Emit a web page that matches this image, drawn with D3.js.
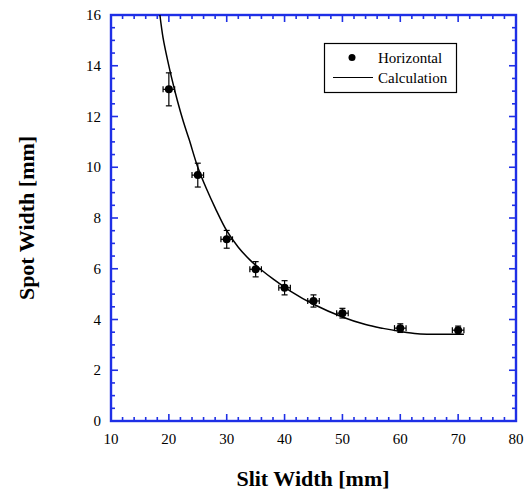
<!DOCTYPE html>
<html>
<head>
<meta charset="utf-8">
<script src="https://d3js.org/d3.v7.min.js"></script>
<style>
  body { margin: 0; background: #fff; }
  text { font-family: "Liberation Serif", "Times New Roman", serif; }
</style>
</head>
<body>
<svg id="chart" width="530" height="490"></svg>
<script>
// measured points (slit width mm, spot width mm) with errors
const slitWidth = [20, 25, 30, 35, 40, 45, 50, 60, 70];
const spotWidth = [13.07, 9.69, 7.16, 5.98, 5.25, 4.73, 4.25, 3.66, 3.58];
const spotErr   = [0.65, 0.47, 0.35, 0.3, 0.28, 0.24, 0.19, 0.17, 0.16];
const slitErr   = [1, 1, 1, 1, 1, 1, 1, 1, 1];

// calculation curve
const calcX = [18.45, 19, 19.8, 20.5, 21.5, 22.5, 23.5, 25, 26.5, 28, 30, 32, 34, 36, 38, 41, 45, 50, 54, 57, 60, 63, 66, 71];
const calcY = [16, 15.1, 14.2, 13.5, 12.6, 11.8, 11.1, 10.0, 9.15, 8.4, 7.5, 6.85, 6.35, 5.95, 5.6, 5.12, 4.6, 4.1, 3.8, 3.65, 3.53, 3.44, 3.42, 3.42];

const xTicks = [10, 20, 30, 40, 50, 60, 70, 80];
const yTicks = [0, 2, 4, 6, 8, 10, 12, 14, 16];

const axisColor = "#1e2fe6";
const svg = d3.select("#chart");
const m = { left: 111, right: 14, top: 15, bottom: 69 };
const W = 530 - m.left - m.right, H = 490 - m.top - m.bottom;

const x = d3.scaleLinear().domain([10, 80]).range([m.left, m.left + W]);
const y = d3.scaleLinear().domain([0, 16]).range([m.top + H, m.top]);

const g = svg.append("g");

// ticks (inside, all four sides)
const xMinor = d3.range(10, 80.01, 2);
const yMinor = d3.range(0, 16.01, 0.5);
const ticks = g.append("g").attr("stroke", axisColor).attr("stroke-width", 1.6);
xMinor.forEach(v => {
  const len = (v % 10 === 0) ? 7 : 4;
  ticks.append("line").attr("x1", x(v)).attr("x2", x(v))
    .attr("y1", y(0)).attr("y2", y(0) - len);
  ticks.append("line").attr("x1", x(v)).attr("x2", x(v))
    .attr("y1", y(16)).attr("y2", y(16) + len);
});
yMinor.forEach(v => {
  const len = (Math.abs(v % 2) < 1e-9) ? 7 : 4;
  ticks.append("line").attr("y1", y(v)).attr("y2", y(v))
    .attr("x1", x(10)).attr("x2", x(10) + len);
  ticks.append("line").attr("y1", y(v)).attr("y2", y(v))
    .attr("x1", x(80)).attr("x2", x(80) - len);
});

// frame
g.append("rect")
  .attr("x", x(10)).attr("y", y(16))
  .attr("width", x(80) - x(10)).attr("height", y(0) - y(16))
  .attr("fill", "none").attr("stroke", axisColor).attr("stroke-width", 2.4);

// tick labels
g.selectAll(".xl").data(xTicks).join("text")
  .attr("x", d => x(d)).attr("y", y(0) + 22.5)
  .attr("text-anchor", "middle").attr("font-size", 15).text(d => d);
g.selectAll(".yl").data(yTicks).join("text")
  .attr("x", x(10) - 10).attr("y", d => y(d) + 5)
  .attr("text-anchor", "end").attr("font-size", 15).text(d => d);

// axis titles
svg.append("text").attr("x", 313).attr("y", 485.5)
  .attr("text-anchor", "middle").attr("font-size", 22).attr("font-weight", "bold")
  .text("Slit Width [mm]");
svg.append("text").attr("transform", "translate(34,218) rotate(-90)")
  .attr("text-anchor", "middle").attr("font-size", 22).attr("font-weight", "bold")
  .text("Spot Width [mm]");

// calculation curve
const line = d3.line().x(d => x(d[0])).y(d => y(d[1])).curve(d3.curveCatmullRom);
g.append("path").datum(calcX.map((v, i) => [v, calcY[i]]))
  .attr("d", line).attr("fill", "none").attr("stroke", "#000").attr("stroke-width", 1.5);

// error bars + points
const pts = slitWidth.map((v, i) => ({ x: v, y: spotWidth[i], ey: spotErr[i], ex: slitErr[i] }));
const eb = g.append("g").attr("stroke", "#000").attr("stroke-width", 1.2);
pts.forEach(p => {
  eb.append("line").attr("x1", x(p.x)).attr("x2", x(p.x)).attr("y1", y(p.y - p.ey)).attr("y2", y(p.y + p.ey));
  eb.append("line").attr("x1", x(p.x) - 3).attr("x2", x(p.x) + 3).attr("y1", y(p.y - p.ey)).attr("y2", y(p.y - p.ey));
  eb.append("line").attr("x1", x(p.x) - 3).attr("x2", x(p.x) + 3).attr("y1", y(p.y + p.ey)).attr("y2", y(p.y + p.ey));
  eb.append("line").attr("x1", x(p.x - p.ex)).attr("x2", x(p.x + p.ex)).attr("y1", y(p.y)).attr("y2", y(p.y));
  eb.append("line").attr("x1", x(p.x - p.ex)).attr("x2", x(p.x - p.ex)).attr("y1", y(p.y) - 3).attr("y2", y(p.y) + 3);
  eb.append("line").attr("x1", x(p.x + p.ex)).attr("x2", x(p.x + p.ex)).attr("y1", y(p.y) - 3).attr("y2", y(p.y) + 3);
});
g.selectAll(".pt").data(pts).join("circle")
  .attr("cx", d => x(d.x)).attr("cy", d => y(d.y)).attr("r", 4).attr("fill", "#000");

// legend
const lg = svg.append("g");
lg.append("rect").attr("x", 324.5).attr("y", 43.5).attr("width", 132).attr("height", 49)
  .attr("fill", "#fff").attr("stroke", "#000").attr("stroke-width", 1.2);
lg.append("circle").attr("cx", 352).attr("cy", 57.5).attr("r", 3.5).attr("fill", "#000");
lg.append("line").attr("x1", 333).attr("x2", 373).attr("y1", 77.5).attr("y2", 77.5)
  .attr("stroke", "#000").attr("stroke-width", 1.2);
lg.append("text").attr("x", 378).attr("y", 63).attr("font-size", 15).text("Horizontal");
lg.append("text").attr("x", 378).attr("y", 83).attr("font-size", 15).text("Calculation");
</script>
</body>
</html>
